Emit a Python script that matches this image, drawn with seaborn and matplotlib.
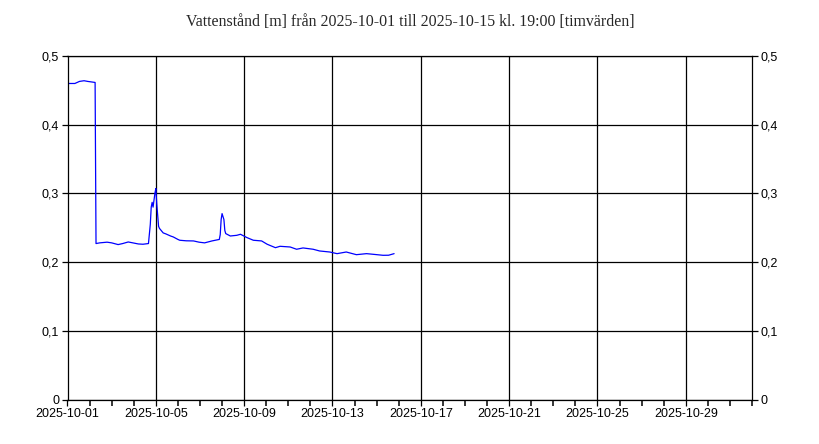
import pandas as pd
import numpy as np
import matplotlib
matplotlib.use("Agg")
import matplotlib.pyplot as plt
import matplotlib.dates as mdates
from matplotlib.ticker import FuncFormatter, MultipleLocator, FixedLocator
import seaborn as sns

# Hourly water level readings (hours since 2025-10-01 00:00)
hours = [0, 8, 13, 18, 22, 30, 31, 35, 43, 48, 55, 60, 66, 71, 77, 82, 88,
         90, 91, 92, 93, 95, 96, 97, 99, 100, 104, 107, 112, 115, 120, 122,
         129, 137, 143, 149, 157, 165, 166, 167, 168, 170, 171, 172, 177,
         184, 188, 195, 202, 211, 217, 226, 231, 242, 249, 256, 267, 274,
         285, 293, 303, 314, 325, 332, 343, 349, 355]
level = [0.460, 0.460, 0.463, 0.464, 0.463, 0.4615, 0.227, 0.228, 0.229,
         0.228, 0.2255, 0.227, 0.2293, 0.228, 0.2264, 0.226, 0.227,
         0.255, 0.280, 0.287, 0.280, 0.300, 0.307, 0.285, 0.252, 0.249,
         0.2425, 0.241, 0.238, 0.2366, 0.233, 0.2318, 0.231, 0.2308, 0.229,
         0.228, 0.2308, 0.233, 0.240, 0.262, 0.2706, 0.262, 0.246, 0.2415,
         0.238, 0.239, 0.2405, 0.2357, 0.2318, 0.2308, 0.226, 0.221, 0.223,
         0.222, 0.2187, 0.2206, 0.2187, 0.2162, 0.2147, 0.2123, 0.2147,
         0.2108, 0.2123, 0.2114, 0.2099, 0.210, 0.2123]

tick_dates = ["2025-10-01", "2025-10-05", "2025-10-09", "2025-10-13",
              "2025-10-17", "2025-10-21", "2025-10-25", "2025-10-29"]

start = pd.Timestamp("2025-10-01")
end = pd.Timestamp("2025-11-01")
df = pd.DataFrame({"time": start + pd.to_timedelta(hours, unit="h"), "level": level})

sns.set_theme(style="white")
plt.rcParams["font.family"] = ["Liberation Sans", "DejaVu Sans"]

fig = plt.figure(figsize=(8.2, 4.44), dpi=100)
ax = fig.add_axes([67.5 / 820, 1 - 399.5 / 444, (752 - 67.5) / 820, (399.5 - 56) / 444])

sns.lineplot(data=df, x="time", y="level", ax=ax, color="#0000ff", linewidth=0.9)

ax.set_xlim(start, end)
ax.set_ylim(0, 0.5)
ax.set_xlabel("")
ax.set_ylabel("")

ax.xaxis.set_major_locator(FixedLocator(mdates.date2num(pd.to_datetime(tick_dates))))
ax.xaxis.set_major_formatter(mdates.DateFormatter("%Y-%m-%d"))
ax.xaxis.set_minor_locator(FixedLocator(mdates.date2num(pd.date_range(start, end, freq="D"))))
ax.yaxis.set_major_locator(MultipleLocator(0.1))
ax.yaxis.set_major_formatter(FuncFormatter(lambda v, p: f"{v:.1f}".replace(".", ",") if v > 0.001 else "0"))

ax.grid(True, which="major", color="black", linewidth=0.9)
for s in ax.spines.values():
    s.set_color("black")
    s.set_linewidth(0.9)

ax.tick_params(axis="x", which="major", direction="out", length=4, width=0.9, color="black",
               bottom=True, labelsize=9, pad=2, labelcolor="black")
ax.tick_params(axis="x", which="minor", direction="out", length=4, width=1.1, color="black",
               bottom=True)
ax.tick_params(axis="y", which="major", direction="out", length=4, width=0.9, color="black",
               left=True, right=True, labelleft=True, labelright=True, labelsize=9,
               pad=2, labelcolor="black")

fig.suptitle("Vattenstånd [m] från 2025-10-01 till 2025-10-15 kl. 19:00 [timvärden]",
             y=1 - 22 / 444, va="center", fontsize=11.4, family=["Liberation Serif", "DejaVu Serif"])

fig.savefig("out.png", dpi=100)
